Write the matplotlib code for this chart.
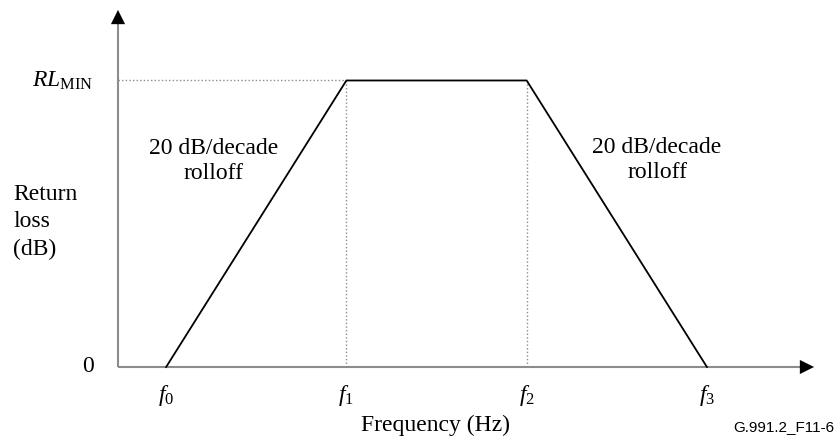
import matplotlib
matplotlib.use("Agg")
import matplotlib.pyplot as plt

plt.rcParams['font.family'] = ['Liberation Serif', 'DejaVu Serif']
plt.rcParams['mathtext.fontset'] = 'custom'
plt.rcParams['mathtext.rm'] = 'Liberation Serif'
plt.rcParams['mathtext.it'] = 'Liberation Serif:italic'

# corner frequencies (equally spaced in the sketch) and return loss levels
freqs = [1, 2, 3, 4]
freq_labels = [r"$f_0$", r"$f_1$", r"$f_2$", r"$f_3$"]
rl = [0, 1, 1, 0]          # 0 .. RL_MIN

xmin, xmax = 0.733, 4.594
ymin, ymax = 0.0, 1.246

W, H = 836, 441
fig = plt.figure(figsize=(W / 100, H / 100), dpi=100)
ax = fig.add_axes([118 / W, (H - 367) / H, (814 - 118) / W, (367 - 10) / H])
ax.set_xlim(xmin, xmax)
ax.set_ylim(ymin, ymax)
ax.axis("off")

axis_col = "#8c8c8c"
# axes with arrow heads
ax.plot([xmin, xmax - 0.06], [0, 0], color=axis_col, lw=1.5, clip_on=False, solid_capstyle="butt")
ax.plot([xmin, xmin], [0, ymax - 0.04], color=axis_col, lw=1.5, clip_on=False, solid_capstyle="butt")
head = dict(arrowstyle="-|>,head_length=0.4,head_width=0.2",
            color="black", lw=0.1, mutation_scale=25, shrinkA=0, shrinkB=0)
ax.annotate("", xy=(xmax, 0), xytext=(xmax - 0.08, 0), arrowprops=head, annotation_clip=False)
ax.annotate("", xy=(xmin, ymax), xytext=(xmin, ymax - 0.05), arrowprops=head, annotation_clip=False)

# dotted guides
dots = (0, (1.0, 1.6))
ax.plot([xmin, freqs[1]], [1, 1], color=axis_col, lw=1, ls=dots, clip_on=False)
ax.plot([freqs[1], freqs[1]], [0, 1], color=axis_col, lw=1, ls=dots)
ax.plot([freqs[2], freqs[2]], [0, 1], color=axis_col, lw=1, ls=dots)

# return loss mask
ax.plot(freqs, rl, color="black", lw=1.3, clip_on=False)

fs = 17
for f, lab in zip(freqs, freq_labels):
    ax.annotate(lab, xy=(f, 0), xytext=(0, -28), textcoords="offset pixels",
                ha="center", va="center", fontsize=fs, annotation_clip=False)

ax.annotate(r"$RL_{\mathrm{MIN}}$", xy=(xmin, 1), xytext=(-25, 0), textcoords="offset pixels",
            ha="right", va="center", fontsize=fs, annotation_clip=False)
ax.annotate("0", xy=(xmin, 0), xytext=(-30, 0), textcoords="offset pixels",
            ha="center", va="center", fontsize=fs, annotation_clip=False)

fig.text(13 / W, 1 - 222 / H, "Return\nloss\n(dB)", ha="left", va="center", fontsize=fs,
         linespacing=1.4)

fig.text(214 / W, 1 - 161 / H, "20 dB/decade\nrolloff", ha="center", va="center",
         fontsize=fs, linespacing=1.2)
fig.text(657 / W, 1 - 160 / H, "20 dB/decade\nrolloff", ha="center", va="center",
         fontsize=fs, linespacing=1.2)

fig.text(436 / W, 1 - 425 / H, "Frequency (Hz)", ha="center", va="center", fontsize=fs)
fig.text(834 / W, 1 - 427 / H, "G.991.2_F11-6", ha="right", va="center", fontsize=11,
         family=["Liberation Sans", "DejaVu Sans"])

fig.savefig("out.png", dpi=100)
